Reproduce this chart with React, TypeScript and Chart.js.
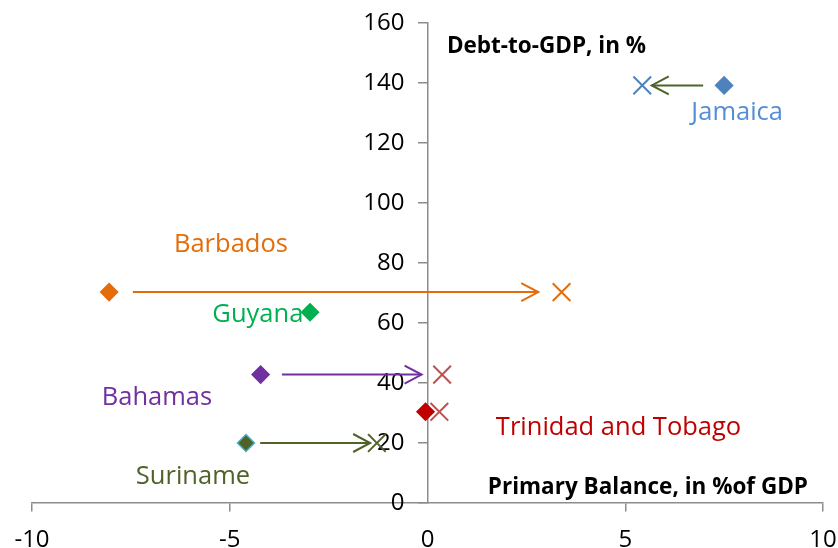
import { useEffect, useRef } from 'react';
import { Chart, registerables } from 'chart.js';

Chart.register(...registerables);

// ---- data ----
const countries = ['Jamaica', 'Barbados', 'Guyana', 'Bahamas', 'Trinidad and Tobago', 'Suriname'];
const balanceBefore = [7.5, -8.05, -2.97, -4.22, -0.05, -4.59];
const debtBefore = [139.2, 70.3, 63.6, 42.8, 30.4, 20.0];
const balanceAfter: (number | null)[] = [5.43, 3.39, null, 0.37, 0.3, -1.28];
const debtAfter: (number | null)[] = [139.2, 70.3, null, 42.8, 30.4, 20.0];
const arrowFrom: (number | null)[] = [6.97, -7.45, null, -3.68, null, -4.23];
const arrowTo: (number | null)[] = [5.67, 2.8, null, -0.15, null, -1.45];
const xTickValues = [-10, -5, 0, 5, 10];
const yTickValues = [0, 20, 40, 60, 80, 100, 120, 140, 160];
const yTitle = 'Debt-to-GDP, in %';
const xTitle = 'Primary Balance, in %of GDP';

// ---- styles ----
const diamondFill = ['#4F81BD', '#E46C0A', '#00B050', '#7030A0', '#C00000', '#4F6228'];
const diamondBorder = ['#4F81BD', '#E46C0A', '#00B050', '#7030A0', '#C00000', '#4BACC6'];
const crossColor = ['#4F81BD', '#E46C0A', '#000', '#C0504D', '#C0504D', '#4F6228'];
const arrowColor = ['#4F6228', '#E46C0A', '#000', '#7030A0', '#000', '#4F6228'];
const labelColor = ['#558ED5', '#E46C0A', '#00B050', '#7030A0', '#C00000', '#4F6228'];
// label centers in data space
const labelAt: [number, number][] = [
  [7.83, 130], [-4.97, 86], [-4.29, 62.7], [-6.84, 35.0], [4.83, 25], [-5.93, 8.7],
];
const FONT = "'Open Sans', 'Noto Sans', sans-serif";
const AXIS = '#8c8c8c';

const annotations = {
  id: 'annotations',
  beforeDatasetsDraw(chart: any) {
    const { ctx, scales } = chart;
    const xs = scales.x, ys = scales.y;
    ctx.save();
    ctx.lineWidth = 2;
    ctx.lineCap = 'butt';
    ctx.lineJoin = 'miter';
    countries.forEach((_, i) => {
      const f = arrowFrom[i], t = arrowTo[i];
      if (f == null || t == null) return;
      const x1 = xs.getPixelForValue(f);
      const x2 = xs.getPixelForValue(t);
      const yy = ys.getPixelForValue(debtBefore[i]);
      const d = Math.sign(x2 - x1);
      ctx.strokeStyle = arrowColor[i];
      ctx.beginPath();
      ctx.moveTo(x1, yy);
      ctx.lineTo(x2, yy);
      ctx.stroke();
      ctx.beginPath();
      ctx.moveTo(x2 - d * 17, yy - 9);
      ctx.lineTo(x2, yy);
      ctx.lineTo(x2 - d * 17, yy + 9);
      ctx.stroke();
    });
    ctx.restore();
  },
  afterDatasetsDraw(chart: any) {
    const { ctx, scales } = chart;
    const xs = scales.x, ys = scales.y;
    ctx.save();
    ctx.textBaseline = 'middle';
    ctx.textAlign = 'center';
    ctx.font = `25.5px ${FONT}`;
    countries.forEach((c, i) => {
      ctx.fillStyle = labelColor[i];
      ctx.fillText(c, xs.getPixelForValue(labelAt[i][0]), ys.getPixelForValue(labelAt[i][1]));
    });
    ctx.fillStyle = '#000';
    ctx.font = `bold 22.5px ${FONT}`;
    ctx.textAlign = 'left';
    ctx.fillText(yTitle, xs.getPixelForValue(0.49), ys.getPixelForValue(152.3));
    ctx.textAlign = 'right';
    ctx.fillText(xTitle, xs.getPixelForValue(9.62), ys.getPixelForValue(5));
    ctx.restore();
  },
};

const noPad = (s: any) => {
  s.paddingTop = 0;
  s.paddingBottom = 0;
  s.paddingLeft = 0;
  s.paddingRight = 0;
};

export default function App() {
  const ref = useRef<HTMLCanvasElement>(null);
  useEffect(() => {
    if (!ref.current) return;
    const afterIdx = countries.map((_, i) => i).filter((i) => balanceAfter[i] != null);
    const tickColor = (c: any) => (c.tick && c.tick.value === 0 ? 'rgba(0,0,0,0)' : AXIS);
    const chart = new Chart(ref.current, {
      type: 'scatter',
      data: {
        datasets: [
          {
            label: 'before',
            data: countries.map((_, i) => ({ x: balanceBefore[i], y: debtBefore[i] })),
            pointStyle: 'rectRot',
            pointRadius: 8.5,
            pointBorderWidth: 1.5,
            pointBackgroundColor: diamondFill,
            pointBorderColor: diamondBorder,
          },
          {
            label: 'after',
            data: afterIdx.map((i) => ({ x: balanceAfter[i] as number, y: debtAfter[i] as number })),
            pointStyle: 'crossRot',
            pointRadius: 12.5,
            pointBorderWidth: 2,
            pointBorderColor: afterIdx.map((i) => crossColor[i]),
            pointBackgroundColor: afterIdx.map((i) => crossColor[i]),
          },
        ],
      },
      options: {
        responsive: false,
        animation: false,
        layout: { padding: { left: 32, right: 15, top: 23, bottom: 45 } },
        plugins: { legend: { display: false }, tooltip: { enabled: false } },
        scales: {
          x: {
            type: 'linear',
            axis: 'x',
            position: { y: 0 } as any,
            min: -10,
            max: 10,
            afterBuildTicks: (s: any) => {
              s.ticks = xTickValues.map((v) => ({ value: v }));
            },
            afterFit: noPad,
            grid: { drawOnChartArea: false, drawTicks: true, tickLength: 8, color: tickColor, lineWidth: 1.5 },
            border: { display: true, color: AXIS, width: 1.5 },
            ticks: { font: { family: FONT, size: 24 }, color: '#000', padding: 15, maxRotation: 0, autoSkip: false },
          },
          y: {
            type: 'linear',
            axis: 'y',
            position: 'center',
            min: 0,
            max: 160,
            afterBuildTicks: (s: any) => {
              s.ticks = yTickValues.map((v) => ({ value: v }));
            },
            afterFit: noPad,
            grid: { drawOnChartArea: false, drawTicks: true, tickLength: 9, color: AXIS, lineWidth: 1.5 },
            border: { display: true, color: AXIS, width: 1.5 },
            ticks: { font: { family: FONT, size: 24 }, color: '#000', padding: 14, autoSkip: false },
          },
        },
      },
      plugins: [annotations],
    });
    return () => chart.destroy();
  }, []);
  return (
    <div style={{ position: 'fixed', left: 0, top: 0, width: 838, height: 548, background: '#fff' }}>
      <canvas ref={ref} width={838} height={548} style={{ display: 'block' }} />
    </div>
  );
}
